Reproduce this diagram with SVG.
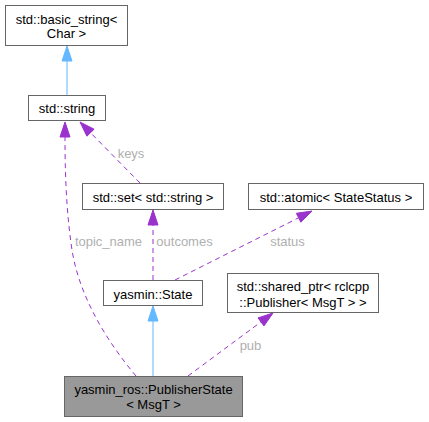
<svg xmlns="http://www.w3.org/2000/svg" width="429" height="422" viewBox="0 0 429 422">
<style>
.box{fill:#ffffff;stroke:#666666;stroke-width:1}
.cur{fill:#999999;stroke:#666666;stroke-width:1}
.t{font-family:"Liberation Sans",Arial,sans-serif;font-size:13px;fill:#000000;text-anchor:middle}
.lbl{font-family:"Liberation Sans",Arial,sans-serif;font-size:13px;fill:#b0b0b0;text-anchor:middle}
.inh{fill:none;stroke:#63b8ff;stroke-width:1}
.ia{fill:#63b8ff;stroke:#63b8ff}
.use{fill:none;stroke:#9a32cd;stroke-width:1;stroke-dasharray:5,4}
.ua{fill:#9a32cd;stroke:#9a32cd}
</style>
<rect width="429" height="422" fill="#ffffff"/>
<g id="connectors">
<path class="inh" d="M67,95 L67,61"/>
<polygon class="ia" points="67,46 62,61 72,61"/>
<path class="inh" d="M153,376 L153,321"/>
<polygon class="ia" points="153,306 148,321 158,321"/>
<path class="use" d="M136,376 C110,345 80,300 72,250 C66,210 65,170 65,137"/>
<polygon class="ua" points="65,122 60,137 70,137"/>
<text class="lbl" x="108.5" y="246">topic_name</text>
<path class="use" d="M140,183 L90.5,132.7"/>
<polygon class="ua" points="80,122 94.1,129.2 86.9,136.2"/>
<text class="lbl" x="131" y="157.5">keys</text>
<path class="use" d="M153,280 L153,225"/>
<polygon class="ua" points="153,210 148,225 158,225"/>
<text class="lbl" x="184.5" y="246">outcomes</text>
<path class="use" d="M175,280 L298.6,217.8"/>
<polygon class="ua" points="312,211 300.85,222.2 296.35,213.3"/>
<text class="lbl" x="287.5" y="246">status</text>
<path class="use" d="M188,376 L261,321.9"/>
<polygon class="ua" points="273,313 264,325.9 258,317.9"/>
<text class="lbl" x="250.5" y="350">pub</text>
</g>
<g id="node_basic_string">
<rect class="box" x="5.5" y="5.5" width="122" height="40"/>
<text class="t" x="66.5" y="23.5">std::basic_string&lt;</text>
<text class="t" x="66.5" y="38">Char &gt;</text>
</g>
<g id="node_string">
<rect class="box" x="28.5" y="95.5" width="77" height="25"/>
<text class="t" x="67" y="112.5">std::string</text>
</g>
<g id="node_set">
<rect class="box" x="82.5" y="183.5" width="141" height="26"/>
<text class="t" x="153" y="202">std::set&lt; std::string &gt;</text>
</g>
<g id="node_atomic">
<rect class="box" x="248.5" y="183.5" width="175" height="26"/>
<text class="t" x="336" y="202">std::atomic&lt; StateStatus &gt;</text>
</g>
<g id="node_state">
<rect class="box" x="103.5" y="280.5" width="99" height="25"/>
<text class="t" x="153" y="298.5">yasmin::State</text>
</g>
<g id="node_shared_ptr">
<rect class="box" x="227.5" y="273.5" width="151" height="39"/>
<text class="t" x="303" y="291">std::shared_ptr&lt; rclcpp</text>
<text class="t" x="303" y="306.5">::Publisher&lt; MsgT &gt; &gt;</text>
</g>
<g id="node_publisher_state">
<rect class="cur" x="64.5" y="376.5" width="178" height="40"/>
<text class="t" x="153.5" y="393.5">yasmin_ros::PublisherState</text>
<text class="t" x="153.5" y="409">&lt; MsgT &gt;</text>
</g>
</svg>
